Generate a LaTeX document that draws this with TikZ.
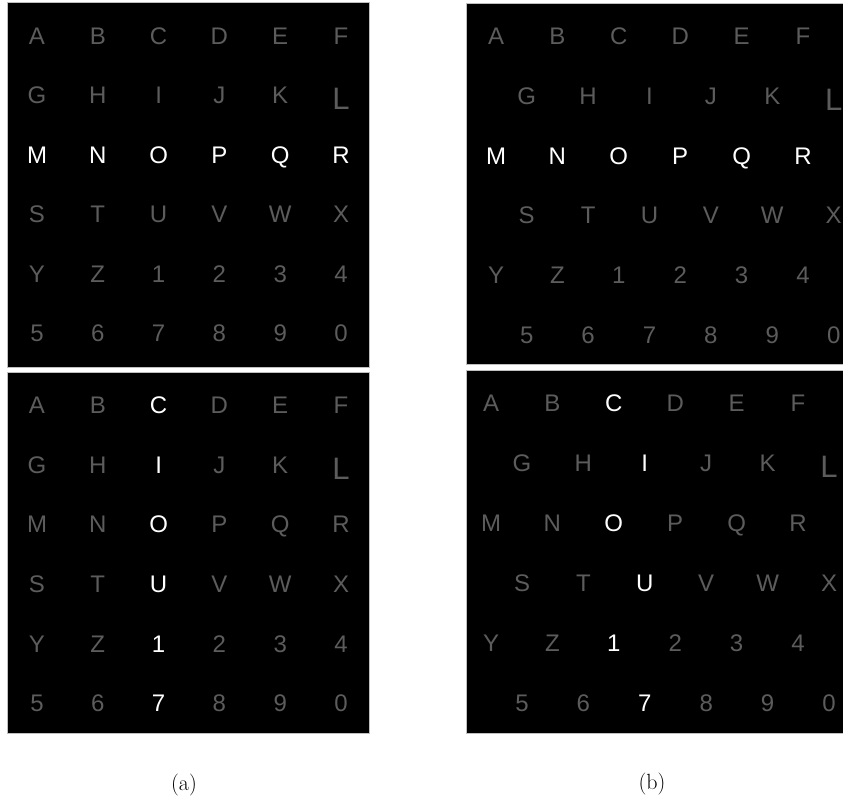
\documentclass[tikz,border=0pt]{standalone}
\usepackage{fontspec}
\newfontfamily\gridfont{Liberation Sans}
\definecolor{dimletter}{RGB}{92,92,92}
\tikzset{
  panel/.style={fill=black, draw=black!25, line width=0.7pt},
  letter/.style={font=\gridfont\fontsize{24}{24}\selectfont, inner sep=0pt, anchor=base},
  bigL/.style={letter, font=\gridfont\fontsize{31}{31}\selectfont},
  caption/.style={font=\fontsize{22}{24}\selectfont, inner sep=0pt}
}

\begin{document}
\begin{tikzpicture}[x=1pt,y=-1pt]
    \useasboundingbox (0,0) rectangle (843,799);
    \clip (0,0) rectangle (843,799);

    % Panels
    \draw[panel] (7,2) rectangle (369,367);
    \draw[panel] (7,372) rectangle (369,733);
    \draw[panel] (466,3) rectangle (850,364);
    \draw[panel] (466,370) rectangle (850,733);

    % Letter grids: name/x0/y0/dx/dy/shift/mode (0 = row lit, 1 = column lit)
    \foreach \pn/\xo/\yo/\dx/\dy/\sh/\md in {ta/37/36/60.8/59.4/0/0, ba/37/405/60.8/59.6/0/1,
                                         tb/496/36/61.4/59.8/30.7/0, bb/491/403/61.4/60/31/1}{
        \foreach \ch [count=\i from 0] in {A,B,C,D,E,F,G,H,I,J,K,L,M,N,O,P,Q,R,
                                           S,T,U,V,W,X,Y,Z,1,2,3,4,5,6,7,8,9,0}{
            \pgfmathtruncatemacro\r{int(\i/6)}
            \pgfmathtruncatemacro\c{mod(\i,6)}
            \pgfmathsetmacro\xx{\xo+\c*\dx+mod(\r,2)*\sh}
            \pgfmathsetmacro\yy{\yo+\r*\dy+8.6+(\i==11)*6}
            \pgfmathtruncatemacro\lit{\md==0 ? (\r==2) : (\c==2)}
            \ifnum\lit=1 \def\tone{white}\else\def\tone{dimletter}\fi
            \ifnum\i=11 \def\sz{bigL}\else\def\sz{letter}\fi
            \node[\sz, text=\tone] (\pn-\i) at (\xx,\yy) {\ch};
        }
    }

    % Sub-captions
    \node[caption] (cap-a) at (184,785) {(a)};
    \node[caption] (cap-b) at (652,784) {(b)};
\end{tikzpicture}
\end{document}
